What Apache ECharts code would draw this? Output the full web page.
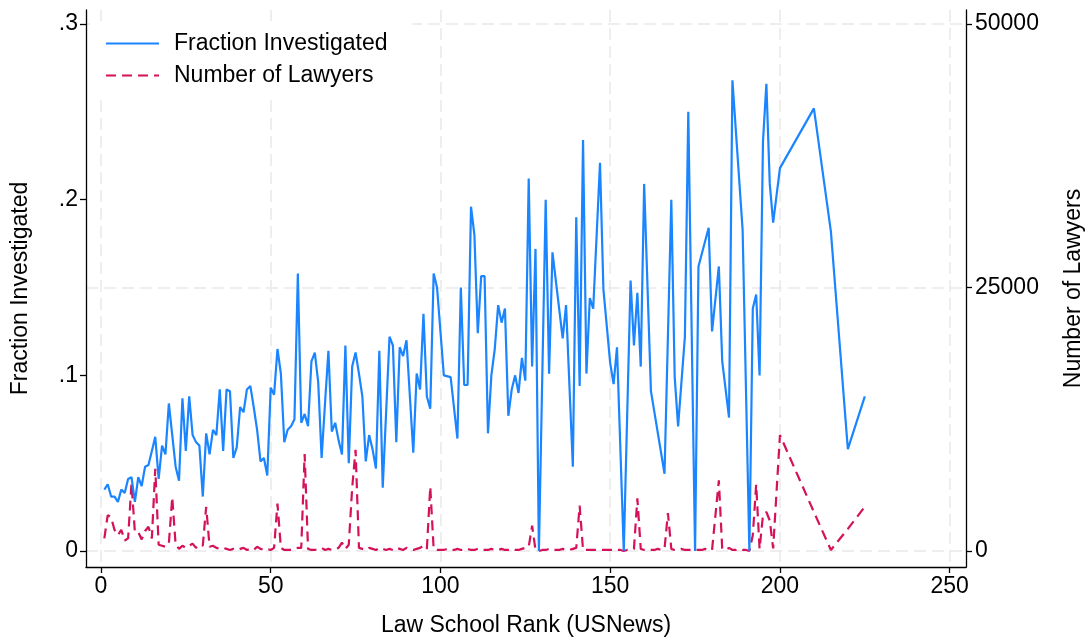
<!DOCTYPE html>
<html>
<head>
<meta charset="utf-8">
<script src="https://cdn.jsdelivr.net/npm/echarts@6/dist/echarts.min.js"></script>
<style>
  html, body { margin: 0; padding: 0; background: #fff; }
  #chart { width: 1091px; height: 639px; }
</style>
</head>
<body>
<div id="chart"></div>
<script>
// law school ranks (x)
var ranks = [
  1,2,3,4,5,6,7,8,9,10, 11,12,13,14,15,16,17,18,19,20,
  21,22,23,24,25,26,27,28,29,30, 31,32,33,34,35,36,37,38,39,40,
  41,42,43,44,45,46,47,48,49,50, 51,52,53,54,55,56,57,58,59,60,
  61,62,63,64,65,66,67,68,69,70, 71,72,73,74,75,76,77,78,79,80,
  81,82,83,84,85,86,87,88,89,90, 91,92,93,94,95,96,97,98,99,100,
  101,102,103,104,105,106,107,108,109,110, 111,112,113,114,115,116,117,118,119,120,
  121,122,123,124,125,126,127,128,129,130, 131,132,133,134,135,136,137,138,139,140,
  141,142,143,144,145,146,147,148,149,150, 151,152,153,154,155,156,157,158,159,160,
  161,162,163,164,165,166,167,168,169,170, 171,172,173,174,175,176,177,178,179,180,
  181,182,183,184,185,186,187,188,189,190, 191,192,193,194,195,196,197,198,199,200,
  210,215,220,225
];

// Fraction Investigated (left axis)
var fracInvestigated = [
  0.035,0.038,0.031,0.031,0.028,0.035,0.033,0.041,0.042,0.028,
  0.042,0.037,0.048,0.049,0.057,0.065,0.041,0.060,0.055,0.084,
  0.066,0.048,0.040,0.087,0.057,0.088,0.066,0.062,0.060,0.031,
  0.067,0.055,0.069,0.066,0.092,0.057,0.092,0.091,0.053,0.059,
  0.082,0.079,0.092,0.094,0.082,0.069,0.051,0.053,0.043,0.093,
  0.089,0.115,0.101,0.062,0.069,0.071,0.075,0.158,0.073,0.078,
  0.071,0.108,0.113,0.096,0.053,0.084,0.114,0.068,0.073,0.063,
  0.055,0.117,0.050,0.105,0.113,0.101,0.088,0.051,0.066,0.058,
  0.047,0.114,0.036,null,0.122,0.117,0.062,0.116,0.111,0.120,
  null,0.056,0.101,0.092,0.135,0.088,0.081,0.158,0.150,null,
  0.100,null,0.099,null,0.064,0.150,0.0945,0.0945,0.196,0.180,
  0.124,0.1565,0.1565,0.067,0.100,0.115,0.140,0.130,0.138,0.077,
  0.092,0.100,0.090,0.110,0.097,0.212,0.105,0.172,0,null,
  0.200,0.101,0.170,null,null,0.121,0.140,null,0.048,0.190,
  0.094,0.234,0.101,0.144,0.138,null,0.221,0.149,null,0.107,
  0.095,0.116,null,0,null,0.154,0.117,0.147,0.105,0.209,
  null,0.091,null,null,null,0.044,null,0.200,0.099,0.071,
  null,0.122,0.250,null,0,0.162,null,null,0.184,0.125,
  null,0.162,0.108,null,0.076,0.268,null,null,0.183,null,
  0,0.138,0.146,0.100,0.233,0.266,0.209,0.187,null,0.218,
  0.252,0.182,0.058,0.088
];

// Number of Lawyers (right axis)
var numLawyers = [
  1200,3400,3200,2000,1500,2000,1000,1200,6400,1800,
  1800,1100,1900,2300,1200,7800,600,500,400,700,
  5100,600,200,500,300,500,700,300,600,500,
  4200,400,500,300,200,300,200,100,200,100,
  200,300,100,200,100,400,200,100,200,100,
  300,4500,300,100,100,100,200,300,300,9200,
  200,100,100,200,300,100,200,100,200,300,
  800,200,600,6000,9600,300,200,100,300,200,
  100,300,200,100,200,100,300,200,100,300,
  200,100,200,300,500,200,6100,200,100,100,
  100,200,100,100,200,100,100,200,100,100,
  200,100,100,100,200,100,100,200,100,100,
  200,100,100,200,300,400,2400,100,0,100,
  100,200,100,100,100,200,100,100,200,300,
  4300,100,100,100,100,100,100,100,100,100,
  100,100,100,0,100,100,200,5000,200,100,
  100,100,100,200,100,200,3600,200,100,100,
  200,100,100,100,100,100,100,200,100,100,
  null,6700,200,100,300,100,100,200,100,100,
  0,1500,6300,200,3400,3700,2900,250,null,11000,
  3700,100,2100,4200
];

var xTicks = [0, 50, 100, 150, 200, 250];
var leftTicks = [0, 0.1, 0.2, 0.3];
var rightTicks = [0, 25000, 50000];

function pairs(xs, ys) {
  var out = [];
  for (var i = 0; i < xs.length; i++) {
    out.push([xs[i], ys[i]]);
  }
  return out;
}

var font = '"Liberation Sans", Arial, Helvetica, sans-serif';
var fs = 23;
var gridLine = { show: true, lineStyle: { color: '#e9e9e9', width: 1.5, type: [12, 6] } };
var axisLine = { show: true, onZero: false, lineStyle: { color: '#000', width: 1.3 } };

var myChart = echarts.init(document.getElementById('chart'), null, { renderer: 'canvas' });
var opt = {
  backgroundColor: '#fff',
  animation: false,
  textStyle: { fontFamily: font },
  grid: {
    left: 86,
    right: 125,
    top: 10,
    bottom: 72,
    outerBoundsMode: 'none',
    containLabel: false
  },
  legend: {
    orient: 'vertical',
    left: 90,
    top: 21,
    padding: [11, 25, 11, 15],
    backgroundColor: '#fff',
    itemWidth: 53,
    itemHeight: 14,
    itemGap: 9,
    itemStyle: { opacity: 0, borderWidth: 0 },
    textStyle: { fontFamily: font, fontSize: fs, color: '#000', lineHeight: 23, padding: [0, 0, 0, 10] },
    data: ['Fraction Investigated', 'Number of Lawyers']
  },
  xAxis: {
    type: 'value',
    min: -4.4,
    max: 254.8,
    name: 'Law School Rank (USNews)',
    nameLocation: 'middle',
    nameGap: 47,
    nameTextStyle: { fontFamily: font, fontSize: fs, color: '#000' },
    axisLine: axisLine,
    axisTick: { show: true, length: 6, customValues: xTicks, lineStyle: { color: '#000', width: 1.3 } },
    axisLabel: { customValues: xTicks, margin: 8, fontFamily: font, fontSize: fs, color: '#000' },
    splitLine: gridLine
  },
  yAxis: [
    {
      type: 'value',
      position: 'left',
      min: -0.0091,
      max: 0.308,
      name: 'Fraction Investigated',
      nameLocation: 'middle',
      nameRotate: 90,
      nameGap: 54,
      nameTextStyle: { fontFamily: font, fontSize: fs, color: '#000' },
      axisLine: axisLine,
      axisTick: { show: true, length: 6, customValues: leftTicks, lineStyle: { color: '#000', width: 1.3 } },
      axisLabel: {
        customValues: leftTicks,
        margin: 8,
        fontFamily: font,
        fontSize: fs,
        color: '#000',
        formatter: function (v) {
          return v === 0 ? '0' : String(Math.round(v * 10) / 10).replace(/^0\./, '.');
        }
      },
      splitLine: { show: false }
    },
    {
      type: 'value',
      position: 'right',
      min: -1517,
      max: 51333,
      name: 'Number of Lawyers',
      nameLocation: 'middle',
      nameRotate: 90,
      nameGap: 96,
      nameTextStyle: { fontFamily: font, fontSize: fs, color: '#000' },
      axisLine: axisLine,
      axisTick: { show: true, length: 6, customValues: rightTicks, lineStyle: { color: '#000', width: 1.3 } },
      axisLabel: {
        customValues: rightTicks,
        margin: 9,
        fontFamily: font,
        fontSize: fs,
        color: '#000',
        formatter: function (v) { return String(v); }
      },
      splitLine: gridLine
    }
  ],
  series: [
    {
      name: 'Fraction Investigated',
      type: 'line',
      yAxisIndex: 0,
      symbol: 'none',
      showSymbol: false,
      connectNulls: true,
      z: 3,
      lineStyle: { color: '#1a85ff', width: 2.2 },
      itemStyle: { color: '#1a85ff' },
      data: pairs(ranks, fracInvestigated)
    },
    {
      name: 'Number of Lawyers',
      type: 'line',
      yAxisIndex: 1,
      symbol: 'none',
      showSymbol: false,
      connectNulls: true,
      z: 2,
      lineStyle: { color: '#d41159', width: 2.2, type: [10, 6] },
      itemStyle: { color: '#d41159' },
      data: pairs(ranks, numLawyers)
    }
  ]
};
myChart.setOption(opt);
</script>
</body>
</html>
